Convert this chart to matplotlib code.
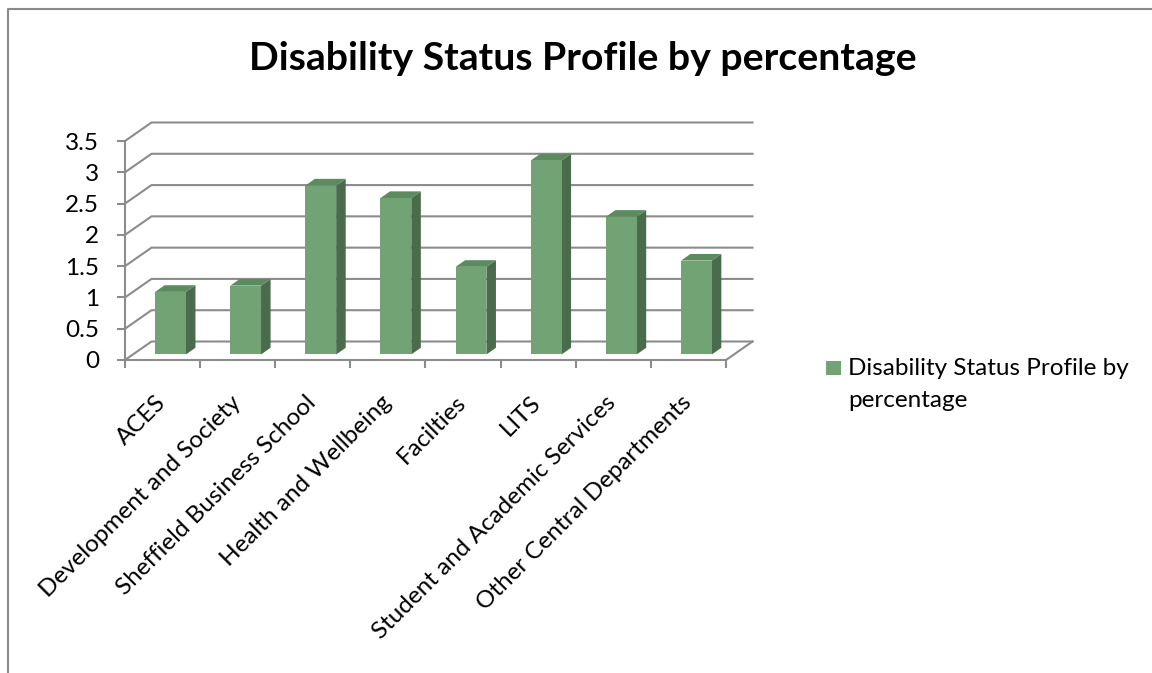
import matplotlib
matplotlib.use("Agg")
import matplotlib.pyplot as plt
from matplotlib.patches import Polygon, Rectangle
from matplotlib.lines import Line2D
from matplotlib.transforms import ScaledTranslation
import numpy as np

# ---- data ----
series_name = "Disability Status Profile by percentage"
categories = ["ACES", "Development and Society", "Sheffield Business School",
              "Health and Wellbeing", "Facilties", "LITS",
              "Student and Academic Services", "Other Central Departments"]
values = [1.0, 1.1, 2.7, 2.5, 1.4, 3.1, 2.2, 1.5]
y_ticks = [0, 0.5, 1, 1.5, 2, 2.5, 3, 3.5]
y_tick_labels = ["0", "0.5", "1", "1.5", "2", "2.5", "3", "3.5"]

# ---- style ----
plt.rcParams["font.family"] = ["Lato", "DejaVu Sans"]
FRONT = "#71A374"
SIDE = "#4A6B4C"
TOP = "#5B8B5E"
GRID = "#8C8C8C"
TXT = "#000000"
FS = 17.5

W, H = 1152, 673
fig = plt.figure(figsize=(W / 100, H / 100), dpi=100)
fig.patch.set_facecolor("white")

# front plane of the plot area, in pixels
px_left, px_right = 125, 726
px_zero, px_top = 360, 141
ax = fig.add_axes([px_left / W, 1 - px_zero / H,
                   (px_right - px_left) / W, (px_zero - px_top) / H])
n = len(categories)
ax.set_xlim(0, n)
ax.set_ylim(0, y_ticks[-1])
ax.set_facecolor("none")

# oblique depth of the 3-D box, expressed in data units
px_per_x = (px_right - px_left) / n
px_per_y = (px_zero - px_top) / y_ticks[-1]
DX = 26.5 / px_per_x
DY = 18.5 / px_per_y

# walls: side-wall diagonals + back-wall gridlines
for t in y_ticks:
    ax.add_line(Line2D([0, DX, n + DX], [t, t + DY, t + DY],
                       color=GRID, lw=1.5, clip_on=False, zorder=1))
# right edge of the floor
ax.add_line(Line2D([n, n + DX], [0, DY], color=GRID, lw=1.5,
                   clip_on=False, zorder=1))

# 3-D columns
centers = np.arange(n) + 0.5
bw = 0.41
f0, f1 = 0.30, 0.66
ax.bar(centers + f0 * DX, values, width=bw, bottom=f0 * DY,
       color=FRONT, edgecolor="none", zorder=3, clip_on=False)
for c, v in zip(centers, values):
    xl = c - bw / 2
    xr = c + bw / 2
    side = [(xr + f0 * DX, f0 * DY), (xr + f1 * DX, f1 * DY),
            (xr + f1 * DX, v + f1 * DY), (xr + f0 * DX, v + f0 * DY)]
    top = [(xl + f0 * DX, v + f0 * DY), (xr + f0 * DX, v + f0 * DY),
           (xr + f1 * DX, v + f1 * DY), (xl + f1 * DX, v + f1 * DY)]
    ax.add_patch(Polygon(side, closed=True, facecolor=SIDE,
                         edgecolor="none", zorder=2.9, clip_on=False))
    ax.add_patch(Polygon(top, closed=True, facecolor=TOP,
                         edgecolor="none", zorder=2.9, clip_on=False))

# axes lines
for s in ["top", "right"]:
    ax.spines[s].set_visible(False)
for s in ["left", "bottom"]:
    ax.spines[s].set_color(GRID)
    ax.spines[s].set_linewidth(1.5)
    ax.spines[s].set_zorder(2)

ax.set_yticks(y_ticks)
ax.set_yticklabels(y_tick_labels)
ax.tick_params(axis="y", length=5.5, width=1.5, color=GRID, pad=13,
               labelsize=FS, labelcolor=TXT)

ax.set_xticks(np.arange(n + 1))
ax.set_xticklabels([])
ax.set_xticks(centers, minor=True)
ax.set_xticklabels(categories, minor=True, rotation=45, ha="right",
                   rotation_mode="default")
ax.tick_params(axis="x", which="major", length=5.5, width=1.5, color=GRID)
ax.tick_params(axis="x", which="minor", length=0, pad=23,
               labelsize=FS, labelcolor=TXT)
shift = ScaledTranslation(7 / 100, 0, fig.dpi_scale_trans)
for lab in ax.get_xticklabels(minor=True):
    lab.set_transform(lab.get_transform() + shift)

# title
fig.text(583 / W, 1 - 58 / H, series_name, ha="center", va="center",
         fontsize=28.3, fontweight="bold", color=TXT)

# legend
fig.add_artist(Rectangle((826 / W, 1 - 375 / H), 15 / W, 14 / H,
                         transform=fig.transFigure, facecolor=FRONT,
                         edgecolor="none"))
words = series_name.split(" ")
fig.text(848 / W, 1 - 375 / H, " ".join(words[:-1]), ha="left",
         va="baseline", fontsize=FS, color=TXT)
fig.text(848 / W, 1 - 407 / H, words[-1], ha="left",
         va="baseline", fontsize=FS, color=TXT)

# chart-area border
fig.add_artist(Line2D([8 / W, 8 / W, 1.0], [0.0, 1 - 9 / H, 1 - 9 / H],
                      transform=fig.transFigure, color="#8A8A8A", lw=1.5))

fig.savefig("out.png", dpi=100, facecolor="white")
